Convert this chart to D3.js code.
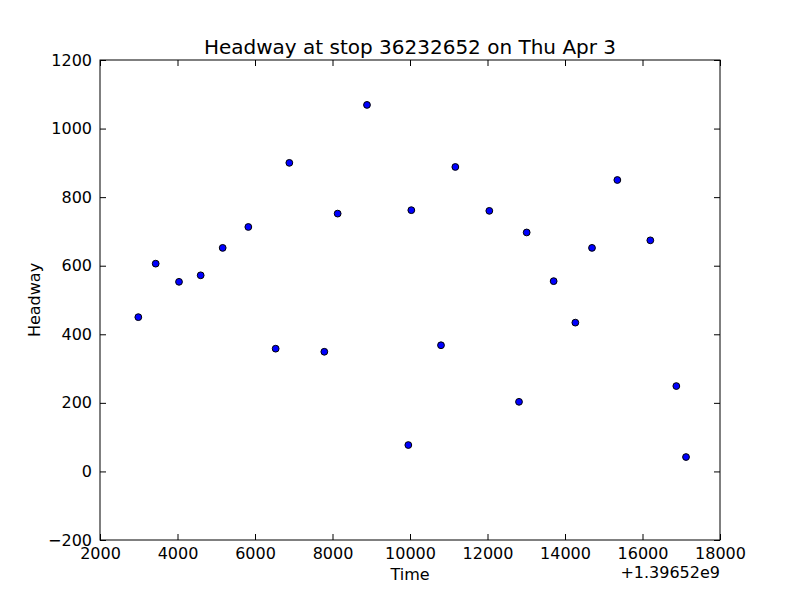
<!DOCTYPE html>
<html><head><meta charset="utf-8">
<script src="https://cdn.jsdelivr.net/npm/d3@7"></script>
<style>body{margin:0;background:#fff}svg{display:block}text{font-family:"DejaVu Sans",sans-serif;fill:#000}</style>
</head><body>
<script>
const times = [2989,3437,4039,4598,5166,5828,6533,6886,7789,8133,8890,9957,10034,10800,11170,12047,12813,13011,13707,14267,14697,15351,16202,16873,17123];
const headways = [450,606,553,572,652,713,358,900,349,752,1069,77,762,368,888,760,203,697,555,434,652,850,674,249,42];
const xTicks = [2000,4000,6000,8000,10000,12000,14000,16000,18000];
const yTicks = [-200,0,200,400,600,800,1000,1200];
const title = "Headway at stop 36232652 on Thu Apr 3";
const xLabel = "Time", yLabel = "Headway", offsetText = "+1.39652e9";

const W=800,H=600, m={l:100,r:80,t:60,b:60};
const svg=d3.select("body").append("svg").attr("width",W).attr("height",H);
const x=d3.scaleLinear().domain([2000,18000]).range([m.l,W-m.r]);
const y=d3.scaleLinear().domain([-200,1200]).range([H-m.b,m.t]);
const fmt=d=>d<0?"\u2212"+Math.abs(d):String(d);
const tl=6, fs="16px";

const gx=svg.append("g").attr("transform",`translate(0,${H-m.b})`)
  .call(d3.axisBottom(x).tickValues(xTicks).tickFormat(fmt).tickSizeInner(-tl).tickSizeOuter(0).tickPadding(8));
const gxt=svg.append("g").attr("transform",`translate(0,${m.t})`)
  .call(d3.axisTop(x).tickValues(xTicks).tickFormat("").tickSizeInner(-tl).tickSizeOuter(0));
const gy=svg.append("g").attr("transform",`translate(${m.l},0)`)
  .call(d3.axisLeft(y).tickValues(yTicks).tickFormat(fmt).tickSizeInner(-tl).tickSizeOuter(0).tickPadding(8));
const gyr=svg.append("g").attr("transform",`translate(${W-m.r},0)`)
  .call(d3.axisRight(y).tickValues(yTicks).tickFormat("").tickSizeInner(-tl).tickSizeOuter(0));
[gx,gxt,gy,gyr].forEach(g=>{g.select(".domain").remove();g.selectAll("line").attr("stroke","#000").attr("stroke-width",1);
  g.selectAll("text").style("font-size",fs).style("font-family","DejaVu Sans");});

svg.append("rect").attr("x",m.l).attr("y",m.t).attr("width",W-m.l-m.r).attr("height",H-m.t-m.b)
  .attr("fill","none").attr("stroke","#000").attr("stroke-width",1);

svg.append("g").selectAll("circle").data(times.map((t,i)=>[t,headways[i]])).join("circle")
  .attr("cx",d=>x(d[0])).attr("cy",d=>y(d[1])).attr("r",3.4)
  .attr("fill","#0000ff").attr("stroke","#000").attr("stroke-width",1);

svg.append("text").attr("x",(m.l+W-m.r)/2).attr("y",54).attr("text-anchor","middle").style("font-size","20px").text(title);
svg.append("text").attr("x",(m.l+W-m.r)/2).attr("y",580).attr("text-anchor","middle").style("font-size",fs).text(xLabel);
svg.append("text").attr("transform",`translate(40,${(m.t+H-m.b)/2}) rotate(-90)`).attr("text-anchor","middle").style("font-size",fs).text(yLabel);
svg.append("text").attr("x",W-m.r).attr("y",578).attr("text-anchor","end").style("font-size",fs).text(offsetText);
</script>
</body></html>
